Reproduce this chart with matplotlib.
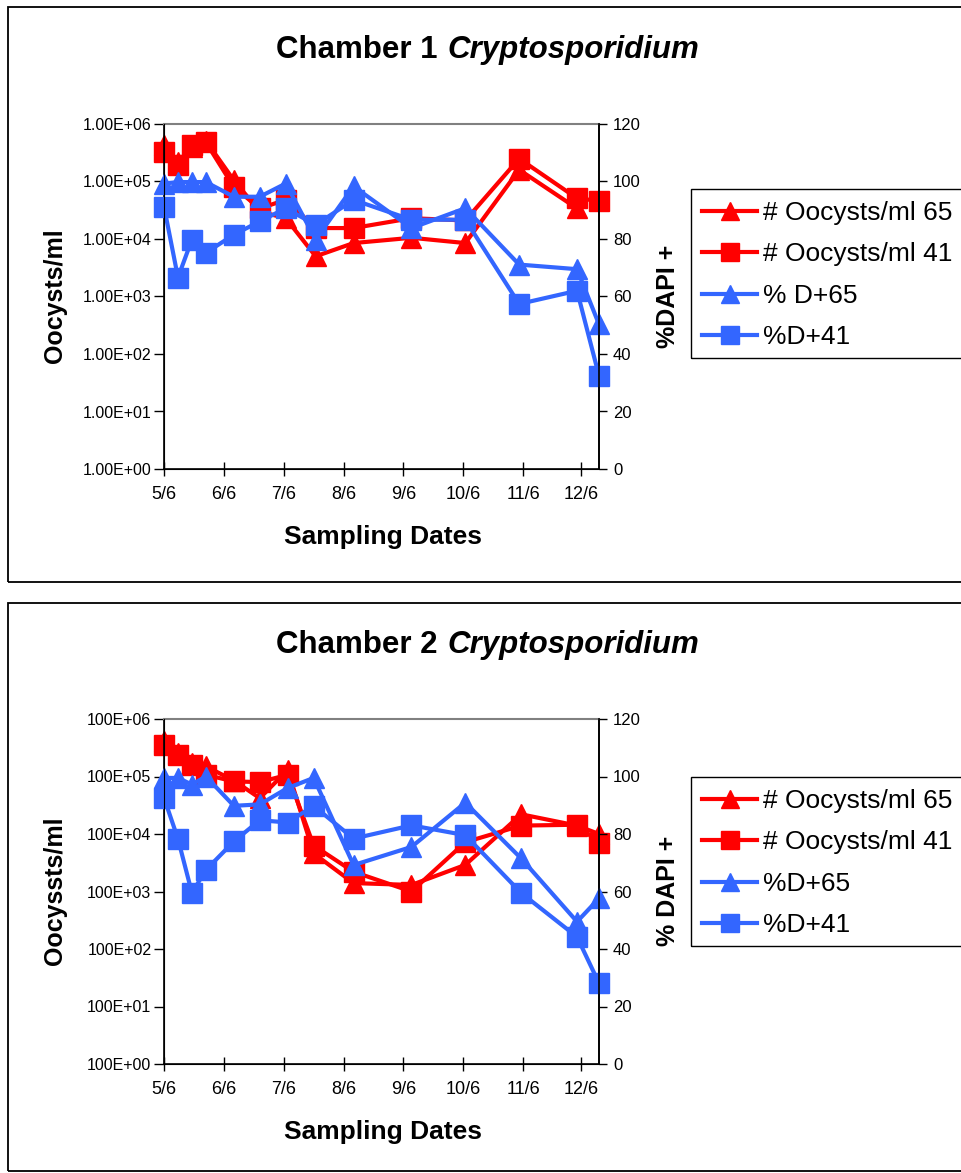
import matplotlib
matplotlib.use("Agg")
import matplotlib.pyplot as plt
import numpy as np
from matplotlib.patches import Rectangle
from matplotlib.ticker import NullLocator

plt.rcParams['font.family'] = ['Liberation Sans', 'DejaVu Sans']

RED = '#FF0000'
BLUE = '#3366FF'

# sampling dates, days after 5/6
x_ticks = [0, 30, 60, 90, 120, 150, 180, 209]
x_labels = ['5/6', '6/6', '7/6', '8/6', '9/6', '10/6', '11/6', '12/6']

# chamber 1
days1 = [0, 7, 14, 21, 35, 48, 61, 76, 95, 124, 151, 178, 207, 218]
oocysts65_1 = [4.3e5, 2.2e5, 4.0e5, 5.1e5, 1.05e5, 3.0e4, 2.3e4, 5.0e3, 8.5e3, 1.05e4, 8.5e3, 1.6e5, 3.4e4, np.nan]
oocysts41_1 = [3.2e5, 1.9e5, 4.3e5, 4.8e5, 8.0e4, 3.4e4, 4.8e4, 1.55e4, 1.55e4, 2.3e4, 2.1e4, 2.5e5, 5.1e4, 4.6e4]
dapi65_1 = [99.3, 99.8, 99.8, 99.8, 94.7, 94.7, 99.3, 79.8, 98.3, 83.8, 90.7, 71.1, 69.5, 50.3]
dapi41_1 = [91.3, 66.6, 79.8, 75.2, 81.5, 86.1, 90.7, 84.9, 93.6, 86.7, 86.7, 57.4, 62.0, 32.4]

# chamber 2
days2 = [0, 7, 14, 21, 35, 48, 62, 75, 95, 124, 151, 179, 207, 218]
oocysts65_2 = [4.2e5, 2.6e5, 1.7e5, 1.5e5, 8.5e4, 4.2e4, 1.3e5, 4.6e3, 1.4e3, 1.3e3, 2.9e3, 2.2e4, 1.4e4, 1.0e4]
oocysts41_2 = [3.6e5, 2.4e5, 1.6e5, 1.07e5, 8.2e4, 8.0e4, 1.07e5, 6.3e3, 2.2e3, 1.0e3, 7.2e3, 1.4e4, 1.45e4, 7.0e3]
dapi65_2 = [99.5, 99.5, 97.2, 100.0, 89.8, 90.3, 96.0, 99.5, 69.2, 75.5, 90.9, 71.5, 49.5, 57.6]
dapi41_2 = [92.6, 78.3, 59.5, 67.5, 77.4, 84.8, 84.0, 89.8, 78.4, 83.0, 79.6, 59.5, 44.2, 28.1]

left_labels_1 = ['1.00E+00', '1.00E+01', '1.00E+02', '1.00E+03', '1.00E+04', '1.00E+05', '1.00E+06']
left_labels_2 = ['100E+00', '100E+01', '100E+02', '100E+03', '100E+04', '100E+05', '100E+06']

W, H = 961, 1173
fig = plt.figure(figsize=(W / 100, H / 100), dpi=100)


def rect(x0, y0, x1, y1):
    return [x0 / W, 1 - y1 / H, (x1 - x0) / W, (y1 - y0) / H]


def box(x0, y0, x1, y1, lw):
    fig.add_artist(Rectangle((x0 / W, 1 - y1 / H), (x1 - x0) / W, (y1 - y0) / H,
                             transform=fig.transFigure, fill=False,
                             edgecolor='black', lw=lw))


def chart(frame, top, title_num, ylab, rlab, leg_names, ylabels,
          days, r65, r41, b65, b41, leg_top):
    box(*frame, 1.3)
    ty = top - 74
    fig.text(438 / W, 1 - ty / H, 'Chamber %d' % title_num, ha='right', va='center',
             fontsize=22.5, fontweight='bold')
    fig.text(447 / W, 1 - ty / H, 'Cryptosporidium', ha='left', va='center',
             fontsize=22.5, fontweight='bold', fontstyle='italic')

    ax = fig.add_axes(rect(164, top, 599, top + 345))
    ax.set_yscale('log')
    ax.set_ylim(1, 1e6)
    ax.set_xlim(0, 218)
    kw = dict(lw=3, ms=14.5, clip_on=False)
    ax.plot(days, r65, color=RED, marker='^', label=leg_names[0], **kw)
    ax.plot(days, r41, color=RED, marker='s', label=leg_names[1], **kw)
    ax.set_yticks([10 ** i for i in range(7)])
    ax.set_yticklabels(ylabels)
    ax.yaxis.set_minor_locator(NullLocator())
    ax.set_xticks(x_ticks)
    ax.set_xticklabels(x_labels)
    ax.tick_params(axis='y', direction='out', length=7, width=1, labelsize=11.5, pad=2)
    ax.tick_params(axis='x', direction='inout', length=10, width=1, labelsize=13, pad=7)
    for s in ['left', 'bottom', 'right']:
        ax.spines[s].set_linewidth(1.2)
    ax.spines['top'].set_color('#808080')
    ax.spines['top'].set_linewidth(1.5)

    ax2 = ax.twinx()
    ax2.set_ylim(0, 120)
    ax2.set_yticks(range(0, 121, 20))
    ax2.plot(days, b65, color=BLUE, marker='^', label=leg_names[2], **kw)
    ax2.plot(days, b41, color=BLUE, marker='s', label=leg_names[3], **kw)
    ax2.tick_params(axis='y', direction='out', length=6, width=1, labelsize=12, pad=4)
    ax2.spines['top'].set_visible(False)
    ax2.spines['right'].set_linewidth(1.2)

    mid = top + 172
    fig.text(55 / W, 1 - mid / H, ylab, rotation=90, ha='center', va='center',
             fontsize=18, fontweight='bold')
    fig.text(668 / W, 1 - mid / H, rlab, rotation=90, ha='center', va='center',
             fontsize=18, fontweight='bold')
    fig.text(383 / W, 1 - (top + 413) / H, 'Sampling Dates', ha='center', va='center',
             fontsize=19, fontweight='bold')

    box(691, leg_top, 975, leg_top + 169, 1.0)
    handles = ax.get_lines() + ax2.get_lines()
    fig.legend(handles, [h.get_label() for h in handles], loc='upper left',
               bbox_to_anchor=(694 / W, 1 - (leg_top + 4) / H), fontsize=19,
               frameon=False, handlelength=2.1, handletextpad=0.2,
               labelspacing=0.66, borderpad=0.3, borderaxespad=0, markerscale=0.85)


chart((8, 7, 975, 582), 124, 1, 'Oocysts/ml', '%DAPI +',
      ['# Oocysts/ml 65', '# Oocysts/ml 41', '% D+65', '%D+41'], left_labels_1,
      days1, oocysts65_1, oocysts41_1, dapi65_1, dapi41_1, 189)

chart((8, 603, 975, 1171), 719, 2, 'Oocyssts/ml', '% DAPI +',
      ['# Oocysts/ml 65', '# Oocysts/ml 41', '%D+65', '%D+41'], left_labels_2,
      days2, oocysts65_2, oocysts41_2, dapi65_2, dapi41_2, 777)

fig.savefig('out.png', dpi=100)
